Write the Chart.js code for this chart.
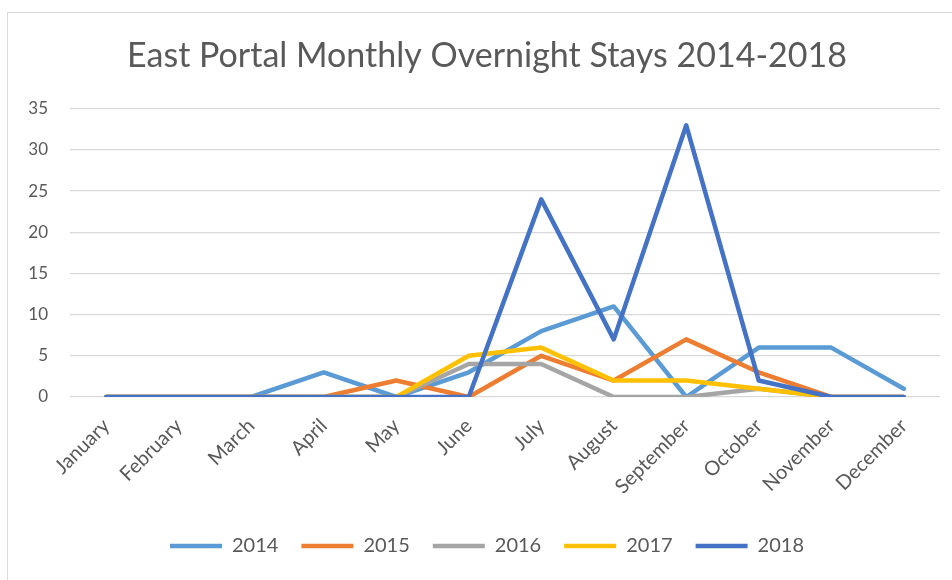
<!DOCTYPE html>
<html><head><meta charset="utf-8">
<script src="https://cdn.jsdelivr.net/npm/chart.js@4"></script>
<style>
html,body{margin:0;padding:0;background:#fff;}
#wrap{position:absolute;left:0;top:0;width:952px;height:580px;}
#frame{position:absolute;left:7px;top:12px;width:960px;height:600px;border:1px solid #d9d9d9;box-sizing:border-box;}
</style></head>
<body>
<div id="frame"></div>
<div id="wrap"><canvas id="c" width="952" height="580"></canvas></div>
<script>
const months = ["January","February","March","April","May","June","July","August","September","October","November","December"];
const years = ["2014","2015","2016","2017","2018"];
const s2014 = [0,0,0,3,0,3,8,11,0,6,6,1];
const s2015 = [0,0,0,0,2,0,5,2,7,3,0,0];
const s2016 = [0,0,0,0,0,4,4,0,0,1,0,0];
const s2017 = [0,0,0,0,0,5,6,2,2,1,0,0];
const s2018 = [0,0,0,0,0,0,24,7,33,2,0,0];
const yTicks = [0,5,10,15,20,25,30,35];
const colors = ["#5B9BD5","#ED7D31","#A5A5A5","#FFC000","#4472C4"];
const seriesList = [s2014,s2015,s2016,s2017,s2018];
const FONT = "Lato";
const datasets = seriesList.map((d,i)=>({
  label: years[i], data: d, borderColor: colors[i], backgroundColor: colors[i],
  borderWidth: 4.5, pointRadius: 0, tension: 0, fill: false,
  borderCapStyle: 'round', borderJoinStyle: 'round', order: 5 - i
}));
const shiftPlugin = {
  id: 'shiftCenter',
  afterLayout(chart) {
    const dx = 17;
    [chart.titleBlock, chart.legend].forEach(b => { if (b) { b.left += dx; b.right += dx; } });
  }
};
new Chart(document.getElementById('c'), {
  type: 'line',
  data: { labels: months, datasets },
  plugins: [shiftPlugin],
  options: {
    responsive: false, animation: false,
    layout: { padding: { left: 0, right: 12, top: 0, bottom: 14 } },
    plugins: {
      title: { display: true, text: "East Portal Monthly Overnight Stays 2014-2018",
        color: "#595959", font: { family: FONT, size: 34, weight: 'normal' },
        padding: { top: 36, bottom: 32 } },
      legend: { position: 'bottom',
        labels: { usePointStyle: true, pointStyle: 'line', pointStyleWidth: 52,
          color: "#595959", font: { family: FONT, size: 20 }, padding: 23,
          sort: (a,b)=>a.datasetIndex-b.datasetIndex } },
      tooltip: { enabled: false }
    },
    scales: {
      x: { offset: true, grid: { display: false }, border: { display: false },
        ticks: { color: "#595959", font: { family: FONT, size: 20 }, maxRotation: 45, minRotation: 45, padding: 9 },
        afterFit: s => { s.height = 116; } },
      y: { min: 0, max: 35, border: { display: false },
        grid: { color: "#d9d9d9", lineWidth: 1.3, drawTicks: false },
        afterBuildTicks: s => { s.ticks = yTicks.map(v=>({value:v})); },
        ticks: { color: "#595959", font: { family: FONT, size: 17 }, padding: 22 },
        afterFit: s => { s.width = 70; } }
    }
  }
});
</script>
</body></html>
